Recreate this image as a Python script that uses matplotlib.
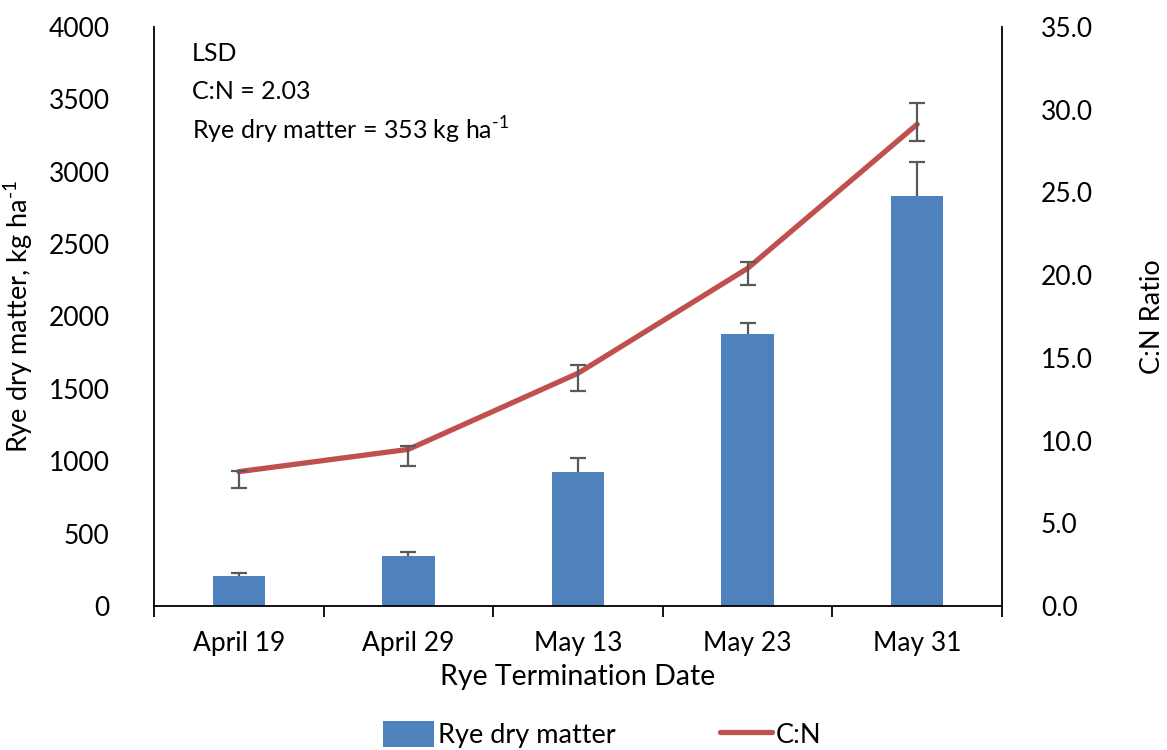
import numpy as np
import matplotlib
matplotlib.use("Agg")
import matplotlib.pyplot as plt
from matplotlib.ticker import FixedLocator, NullFormatter

plt.rcParams['font.family'] = ['Lato', 'DejaVu Sans']
plt.rcParams['mathtext.fontset'] = 'custom'
plt.rcParams['mathtext.rm'] = 'Lato'

dates = ["April 19", "April 29", "May 13", "May 23", "May 31"]
dry_matter = [207, 345, 926, 1881, 2830]      # kg/ha
dry_matter_err = [19, 28, 96, 72, 235]
cn_ratio = [8.12, 9.47, 14.07, 20.41, 29.12]
cn_err_low = [1.01, 1.01, 1.09, 1.01, 1.01]
cn_err_high = [0.06, 0.20, 0.52, 0.37, 1.27]

bar_color = "#4F81BD"
line_color = "#C0504D"
err_color = "#595959"

fig = plt.figure(figsize=(11.67, 7.5), dpi=100)
ax = fig.add_axes([0.132, 0.192, 0.7266, 0.772])
ax2 = ax.twinx()

x = np.arange(len(dates))
bars = ax.bar(x, dry_matter, width=0.31, color=bar_color, zorder=2,
              label="Rye dry matter")
# upper-only error bars on the bars (no cap at the bar top)
tops = np.array(dry_matter) + np.array(dry_matter_err)
ax.vlines(x, dry_matter, tops, color=err_color, lw=1.6, zorder=3)
ax.hlines(tops, x - 0.047, x + 0.047, color=err_color, lw=1.6, zorder=3)

line, = ax2.plot(x, cn_ratio, color=line_color, lw=3.8, solid_capstyle="round",
                 zorder=2, label="C:N")
ax2.errorbar(x, cn_ratio, yerr=[cn_err_low, cn_err_high], fmt="none",
             ecolor=err_color, elinewidth=1.6, capsize=5.5, capthick=1.6, zorder=3)

ax.set_xlim(-0.5, len(dates) - 0.5)
ax.set_ylim(0, 4000)
ax2.set_ylim(0, 35)
ax.set_yticks(np.arange(0, 4001, 500))
ax2.set_yticks(np.arange(0, 35.1, 5))
ax2.set_yticklabels([f"{v:.1f}" for v in np.arange(0, 35.1, 5)])

# category labels in the middle, tick marks on the boundaries
ax.set_xticks(x)
ax.set_xticklabels(dates)
ax.xaxis.set_minor_locator(FixedLocator(np.arange(-0.5, len(dates), 1.0)))
ax.xaxis.set_minor_formatter(NullFormatter())
ax.tick_params(axis="x", which="major", length=0, pad=18, labelsize=19)
ax.tick_params(axis="x", which="minor", length=8, width=1.3, direction="out")
ax.tick_params(axis="y", length=0, pad=32, labelsize=19)
ax2.tick_params(axis="y", length=0, pad=28, labelsize=19)

for a in (ax, ax2):
    a.spines["top"].set_visible(False)
    for s in ("left", "right", "bottom"):
        a.spines[s].set_linewidth(1.3)
ax2.spines["left"].set_visible(False)
ax2.spines["bottom"].set_visible(False)
ax.spines["right"].set_visible(False)

ax.set_xlabel("Rye Termination Date", fontsize=20.5, labelpad=6)
ax.set_ylabel(r"Rye dry matter, kg ha$^{\text{-1}}$", fontsize=19.5, labelpad=10)
ax2.set_ylabel("C:N Ratio", fontsize=19.5, labelpad=34)

ax.text(0.045, 0.955, "LSD", transform=ax.transAxes, fontsize=18, va="center")
ax.text(0.045, 0.888, "C:N = 2.03", transform=ax.transAxes, fontsize=18, va="center")
ax.text(0.045, 0.822, r"Rye dry matter = 353 kg ha$^{\text{-1}}$",
        transform=ax.transAxes, fontsize=18, va="center")

fig.legend([bars, line], ["Rye dry matter", "C:N"], loc="lower center",
           bbox_to_anchor=(0.516, -0.03), ncol=2, frameon=False, fontsize=19.5,
           handlelength=1.9, handleheight=1.1, handletextpad=0.15,
           columnspacing=3.85)

fig.savefig("out.png", dpi=100)
